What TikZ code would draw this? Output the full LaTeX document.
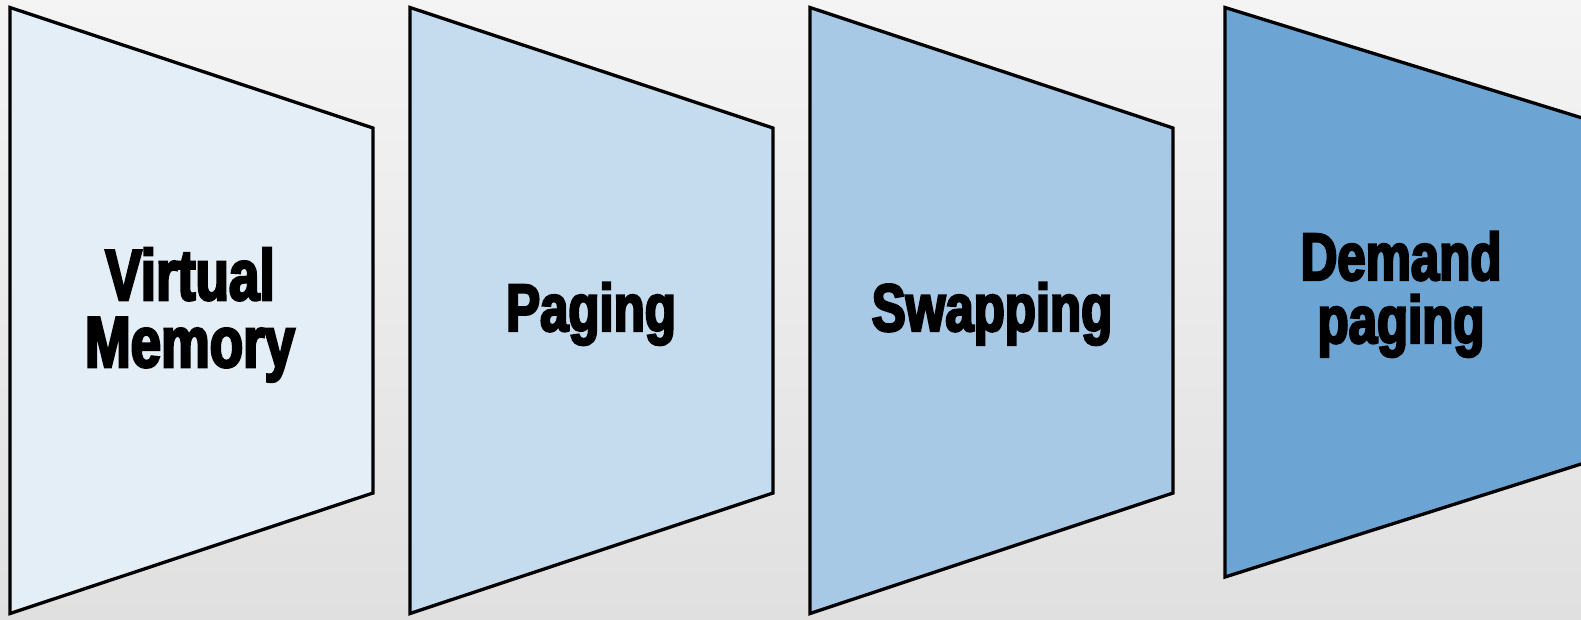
\documentclass[tikz,border=0pt]{standalone}
\usepackage{fontspec}
\newfontfamily\impactfont{Liberation Sans}[FakeStretch=0.76,BoldFeatures={FakeBold=3.5}]
\definecolor{bgtop}{HTML}{F4F4F4}
\definecolor{bgbot}{HTML}{E0E0E0}
\definecolor{fillA}{HTML}{E3EEF7}
\definecolor{fillB}{HTML}{C5DCEF}
\definecolor{fillC}{HTML}{A8C9E6}
\definecolor{fillD}{HTML}{6CA5D4}
\tikzset{
  panel/.style={draw=black, line width=3.3pt, line join=miter},
  lbl/.style={anchor=base, inner sep=0pt, text=black},
  bigfont/.style={font=\impactfont\bfseries\fontsize{72}{67}\selectfont},
  midfont/.style={font=\impactfont\bfseries\fontsize{67}{63}\selectfont}
}
\begin{document}
\begin{tikzpicture}[x=1pt,y=-1pt]
\useasboundingbox (0,0) rectangle (1581,619);
\shade[top color=bgtop, bottom color=bgbot] (0,0) rectangle (1581,619);
\begin{scope}
\clip (0,0) rectangle (1581,619);
\draw[panel, fill=fillA] (10,7.5) -- (373,128) -- (373,493) -- (10,613.5) -- cycle;
\draw[panel, fill=fillB] (410,7.5) -- (773,128) -- (773,493) -- (410,613.5) -- cycle;
\draw[panel, fill=fillC] (810,7.5) -- (1173,128) -- (1173,493) -- (810,613.5) -- cycle;
\draw[panel, fill=fillD] (1225,7.5) -- (1600,123.5) -- (1600,458) -- (1225,577) -- cycle;
\end{scope}
\node[lbl, bigfont] (vm1) at (190,300) {Virtual};
\node[lbl, bigfont] (vm2) at (190,367) {Memory};
\node[lbl, midfont] (pg) at (591,331) {Paging};
\node[lbl, midfont] (sw) at (992,331) {Swapping};
\node[lbl, midfont] (dp1) at (1401,280) {Demand};
\node[lbl, midfont] (dp2) at (1401,343) {paging};
\end{tikzpicture}
\end{document}
